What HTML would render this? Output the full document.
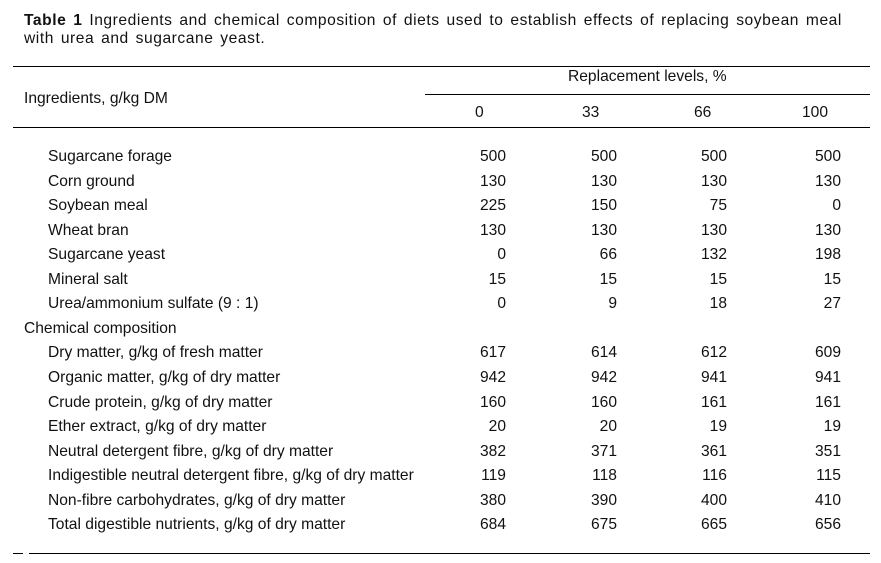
<!DOCTYPE html>
<html><head><meta charset="utf-8"><style>
body{margin:0;width:881px;height:563px;background:#fff;position:relative;font-family:"Liberation Sans",Arial,sans-serif;color:#111;overflow:hidden}
.t{position:absolute;font-size:15.6px;line-height:18px;white-space:nowrap}
.l{position:absolute;height:1px;background:#000}
.r{position:absolute;font-size:15.6px;line-height:18px;text-align:right;width:60px}
</style></head><body>
<div class="t" style="left:24px;top:12px;letter-spacing:0.55px;word-spacing:2px"><b>Table 1</b> Ingredients and chemical composition of diets used to establish effects of replacing soybean meal<br>with urea and sugarcane yeast.</div>
<div class="l" style="left:13px;top:66px;width:857px"></div>
<div class="t" style="left:568px;top:68px">Replacement levels, %</div>
<div class="l" style="left:425px;top:94px;width:445px"></div>
<div class="t" style="left:24px;top:90px">Ingredients, g/kg DM</div>
<div class="t" style="left:475px;top:104px">0</div>
<div class="t" style="left:582px;top:104px">33</div>
<div class="t" style="left:694px;top:104px">66</div>
<div class="t" style="left:802px;top:104px">100</div>
<div class="l" style="left:13px;top:127px;width:857px"></div>
<div id="rows"></div>
<div class="l" style="left:13px;top:553px;width:10px"></div>
<div class="l" style="left:29px;top:553px;width:841px"></div>
<script>
const labels=["Sugarcane forage","Corn ground","Soybean meal","Wheat bran","Sugarcane yeast","Mineral salt","Urea/ammonium sulfate (9 : 1)","Chemical composition","Dry matter, g/kg of fresh matter","Organic matter, g/kg of dry matter","Crude protein, g/kg of dry matter","Ether extract, g/kg of dry matter","Neutral detergent fibre, g/kg of dry matter","Indigestible neutral detergent fibre, g/kg of dry matter","Non-fibre carbohydrates, g/kg of dry matter","Total digestible nutrients, g/kg of dry matter"];
const c0=[500,130,225,130,0,15,0,null,617,942,160,20,382,119,380,684];
const c33=[500,130,150,130,66,15,9,null,614,942,160,20,371,118,390,675];
const c66=[500,130,75,130,132,15,18,null,612,941,161,19,361,116,400,665];
const c100=[500,130,0,130,198,15,27,null,609,941,161,19,351,115,410,656];
const cols=[c0,c33,c66,c100];
const rights=[506,617,727,841];
const box=document.getElementById('rows');
labels.forEach((lab,i)=>{
  const y=148+i*24.55;
  const d=document.createElement('div');
  d.className='t';
  
  
  d.style.left=(i===7?24:48)+'px';d.style.top=y+'px';d.textContent=lab;box.appendChild(d);
  cols.forEach((c,j)=>{
    if(c[i]===null)return;
    const v=document.createElement('div');
    v.className='r';
    
    
    v.style.left=(rights[j]-60)+'px';v.style.top=y+'px';v.textContent=c[i];box.appendChild(v);
  });
});
</script>
</body></html>
